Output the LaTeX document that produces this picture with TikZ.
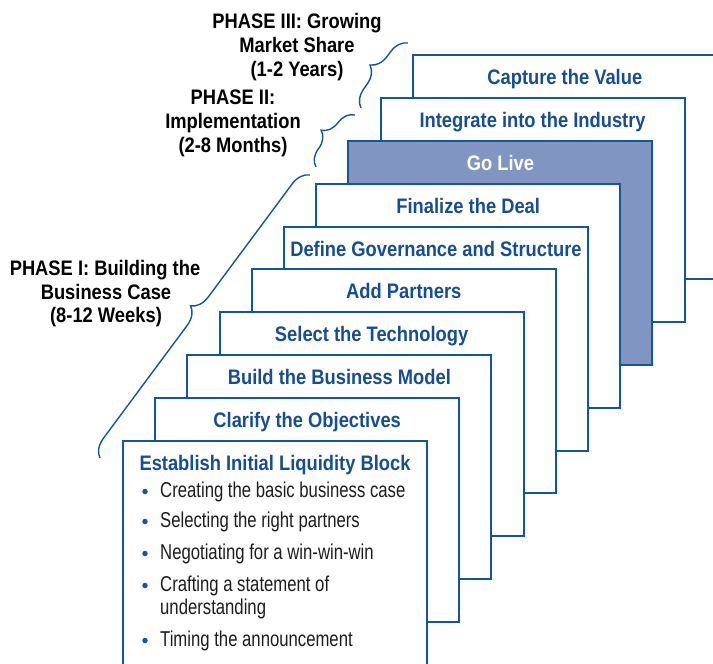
\documentclass[tikz,border=0pt]{standalone}
\usepackage{fontspec}
\setmainfont{Liberation Sans}
\newfontfamily\ttlfont[FakeStretch=0.873]{Liberation Sans}
\newfontfamily\bodyfont[FakeStretch=0.777]{Liberation Sans}
\usetikzlibrary{decorations.pathreplacing}
\definecolor{bblue}{RGB}{20,85,155}
\definecolor{tblue}{RGB}{22,78,145}
\definecolor{gofill}{RGB}{128,149,194}
\definecolor{bodytxt}{RGB}{30,30,30}
\begin{document}
\begin{tikzpicture}[x=1pt,y=-1pt,
 stepbox/.style={draw=bblue, line width=2pt, fill=white, minimum width=304pt, minimum height=224pt, anchor=north west, inner sep=0pt, outer sep=0pt},
 ttl/.style={anchor=base, inner sep=0pt, text=tblue, font=\ttlfont\bfseries\fontsize{21}{24}\selectfont},
 phase/.style={anchor=base, inner sep=0pt, text=black, font=\ttlfont\bfseries\fontsize{21}{24}\selectfont},
 item/.style={anchor=base west, inner sep=0pt, text=bodytxt, font=\bodyfont\fontsize{21.5}{23}\selectfont},
 bracebl/.style={draw=bblue, line width=1.4pt, decorate, decoration={brace, amplitude=18pt}},
 dot/.style={circle, fill=bblue, inner sep=0pt, minimum size=5.5pt}
]
\useasboundingbox (0,0) rectangle (713,664);
\clip (0,0) rectangle (713,664);

% boxes, back to front
\node[stepbox] (b9) at (412.8,54.9) {};
\node[ttl] (t9) at ([yshift=-29.5pt]b9.north) {Capture the Value};
\node[stepbox] (b8) at (380.6,97.8) {};
\node[ttl] (t8) at ([yshift=-29.5pt]b8.north) {Integrate into the Industry};
\node[stepbox, fill=gofill] (b7) at (348.4,140.7) {};
\node[ttl, text=white] (t7) at ([yshift=-29.5pt]b7.north) {Go Live};
\node[stepbox] (b6) at (316.2,183.6) {};
\node[ttl] (t6) at ([yshift=-29.5pt]b6.north) {Finalize the Deal};
\node[stepbox] (b5) at (284.0,226.5) {};
\node[ttl] (t5) at ([yshift=-29.5pt]b5.north) {Define Governance and Structure};
\node[stepbox] (b4) at (251.8,269.4) {};
\node[ttl] (t4) at ([yshift=-29.5pt]b4.north) {Add Partners};
\node[stepbox] (b3) at (219.6,312.3) {};
\node[ttl] (t3) at ([yshift=-29.5pt]b3.north) {Select the Technology};
\node[stepbox] (b2) at (187.4,355.2) {};
\node[ttl] (t2) at ([yshift=-29.5pt]b2.north) {Build the Business Model};
\node[stepbox] (b1) at (155.2,398.1) {};
\node[ttl] (t1) at ([yshift=-29.5pt]b1.north) {Clarify the Objectives};
\node[stepbox, minimum height=250pt] (b0) at (123.0,441.0) {};
\node[ttl] (t0) at ([yshift=-29.5pt]b0.north) {Establish Initial Liquidity Block};

% bullet list
\node[dot] (d1) at (145,491.5) {};
\node[item] (l1) at (160,497.5) {Creating the basic business case};
\node[dot] (d2) at (145,521.5) {};
\node[item] (l2) at (160,527.5) {Selecting the right partners};
\node[dot] (d3) at (145,553.5) {};
\node[item] (l3) at (160,559.5) {Negotiating for a win-win-win};
\node[dot] (d4) at (145,585.5) {};
\node[item] (l4) at (160,591.5) {Crafting a statement of};
\node[item] (l4b) at (160,614.5) {understanding};
\node[dot] (d5) at (145,640.5) {};
\node[item] (l5) at (160,646.5) {Timing the announcement};

% phase labels
\node[phase] (ph3a) at (297,28.3) {PHASE III: Growing};
\node[phase] (ph3b) at (297,52.3) {Market Share};
\node[phase] (ph3c) at (297,76.3) {(1-2 Years)};
\node[phase] (ph2a) at (233,104.5) {PHASE II:};
\node[phase] (ph2b) at (233,128.5) {Implementation};
\node[phase] (ph2c) at (233,152.5) {(2-8 Months)};
\node[phase] (ph1a) at (105,275) {PHASE I: Building the};
\node[phase] (ph1b) at (106,299) {Business Case};
\node[phase] (ph1c) at (106,322) {(8-12 Weeks)};

% braces
\coordinate (br1s) at (100,458);
\coordinate (br1e) at (310,175);
\coordinate (br2s) at (316,167);
\coordinate (br2e) at (355,115);
\coordinate (br3s) at (361,108);
\coordinate (br3e) at (408,43);
\draw[bracebl] (br1s) -- (br1e);
\draw[bracebl] (br2s) -- (br2e);
\draw[bracebl] (br3s) -- (br3e);
\end{tikzpicture}
\end{document}
